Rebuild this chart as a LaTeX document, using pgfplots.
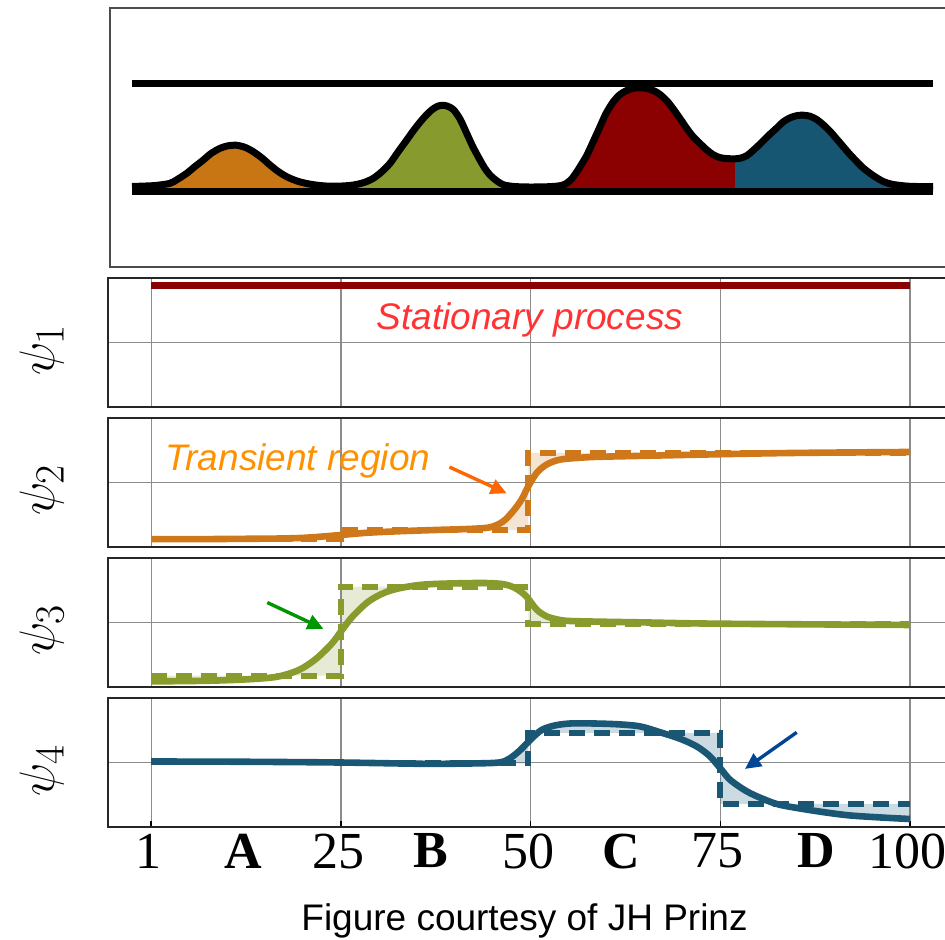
\documentclass[border=0pt]{standalone}
\usepackage{fontspec}
\setmainfont{Liberation Sans}
\newfontfamily\tickfont{Liberation Serif}
\usepackage{pgfplots}
\pgfplotsset{compat=1.18}
\usepgfplotslibrary{fillbetween}
\usetikzlibrary{arrows.meta}

\definecolor{corange}{RGB}{200,117,20}
\definecolor{cgreen}{RGB}{135,154,46}
\definecolor{cred}{RGB}{139,0,0}
\definecolor{cblue}{RGB}{22,86,115}
\definecolor{lorange}{RGB}{207,120,25}
\definecolor{lgreen}{RGB}{136,155,45}
\definecolor{lblue}{RGB}{25,87,117}
\definecolor{statred}{RGB}{255,51,51}
\definecolor{transor}{RGB}{255,145,0}
\definecolor{arrowor}{RGB}{255,102,0}
\definecolor{arrowgr}{RGB}{0,150,0}
\definecolor{arrowbl}{RGB}{0,70,150}

\tikzset{arr/.style={line width=1.7pt, -{Triangle[length=8pt,width=7.5pt]}}}
\pgfplotsset{
  psipanel/.style={
    scale only axis, width=420.95pt, height=64.1pt, anchor=north west,
    xmin=-5.68, xmax=105.27, ymin=-1, ymax=1,
    xtick={0,25,50,75,100}, ytick={0}, xticklabels={}, yticklabels={},
    grid=major, grid style={draw=black!45, line width=0.6pt},
    major tick length=0pt,
    axis line style={draw=black!85, line width=1pt},
    set layers,
    ylabel style={at={(axis description cs:-0.079,0.44)}, anchor=center, font=\fontsize{32}{34}\selectfont},
  },
  solidl/.style={line width=3.3pt, smooth},
  dashl/.style={line width=3pt, dash pattern=on 8pt off 4.5pt},
}

\begin{document}
\begin{tikzpicture}

% ---------- top panel ----------
\begin{axis}[scale only axis, width=420.15pt, height=129.2pt, at={(54.85pt,-4.15pt)}, anchor=north west,
  xmin=109.7, xmax=950, ymin=3.3, ymax=261.7, ticks=none,
  axis line style={draw=black!70, line width=1pt}]
\addplot[fill=corange, draw=none] coordinates {(132,78.3) (132,83.5) (140,83.8) (155,84.5) (170,86.7) (178,91) (186.7,96.7) (195,103.5) (203.3,110) (211,116.5) (220,121.7) (228,124.2) (236,124.8) (245,122.7) (253.3,118.3) (262,112) (270,105) (278,98.7) (286.7,93.3) (297,89) (306.7,86.5) (318,84.7) (330,83.8) (330,78.3)};
\addplot[fill=cgreen, draw=none] coordinates {(330,78.3) (330,83.8) (342,84) (353.3,85) (364,87.5) (373.3,91.7) (382,98.5) (390,106.7) (398,118) (406.7,130) (415,141.5) (423.3,151.7) (431,159.5) (437,163.5) (442,164.7) (447,164) (453.3,160.5) (460,151) (466.7,136.7) (473,123) (480,110) (485,101.5) (490,95) (497,89) (503.3,85.3) (512,83.7) (520,83.2) (531,83) (531,78.3)};
\addplot[fill=cred, draw=none] coordinates {(531,78.3) (531,83) (546,83.2) (556,83.8) (562,84.7) (567,87) (572,91.5) (577,98.5) (582,106.5) (586.7,114.5) (593,128) (600,143.3) (606,156.5) (613.3,168.3) (620,175.5) (626.7,179.5) (633,181.7) (640,182.3) (647,181.5) (654,179.2) (660,175.5) (667,169) (673.3,161) (680,151.5) (686.7,141.7) (693,133.5) (700,126.5) (706.7,120.2) (713.3,115.2) (720,112.4) (727,111.4) (735,111.2) (735,78.3)};
\addplot[fill=cblue, draw=none] coordinates {(735,78.3) (735,111.2) (741,112) (747,114.5) (753,119.5) (760,126) (768,134) (776.7,142) (783,148) (790,152.2) (797,154.4) (803.3,154.8) (810,153.8) (816.7,150.5) (823,145.5) (830,138.7) (836.7,131) (843.3,123.3) (850,115.5) (856.7,108.5) (863,102.2) (870,96.7) (877,92) (883.3,88.5) (890,86.2) (896.7,85) (910,83.7) (933,83.3) (933,78.3)};
\addplot[black, line width=3.5pt, smooth, line join=round] coordinates {(132,83.5) (140,83.8) (155,84.5) (170,86.7) (178,91) (186.7,96.7) (195,103.5) (203.3,110) (211,116.5) (220,121.7) (228,124.2) (236,124.8) (245,122.7) (253.3,118.3) (262,112) (270,105) (278,98.7) (286.7,93.3) (297,89) (306.7,86.5) (318,84.7) (330,83.8) (342,84) (353.3,85) (364,87.5) (373.3,91.7) (382,98.5) (390,106.7) (398,118) (406.7,130) (415,141.5) (423.3,151.7) (431,159.5) (437,163.5) (442,164.7) (447,164) (453.3,160.5) (460,151) (466.7,136.7) (473,123) (480,110) (485,101.5) (490,95) (497,89) (503.3,85.3) (512,83.7) (520,83.2) (531,83) (546,83.2) (556,83.8) (562,84.7) (567,87) (572,91.5) (577,98.5) (582,106.5) (586.7,114.5) (593,128) (600,143.3) (606,156.5) (613.3,168.3) (620,175.5) (626.7,179.5) (633,181.7) (640,182.3) (647,181.5) (654,179.2) (660,175.5) (667,169) (673.3,161) (680,151.5) (686.7,141.7) (693,133.5) (700,126.5) (706.7,120.2) (713.3,115.2) (720,112.4) (727,111.4) (735,111.2) (741,112) (747,114.5) (753,119.5) (760,126) (768,134) (776.7,142) (783,148) (790,152.2) (797,154.4) (803.3,154.8) (810,153.8) (816.7,150.5) (823,145.5) (830,138.7) (836.7,131) (843.3,123.3) (850,115.5) (856.7,108.5) (863,102.2) (870,96.7) (877,92) (883.3,88.5) (890,86.2) (896.7,85) (910,83.7) (933,83.3)};
\addplot[black, line width=3.3pt] coordinates {(132,78.3) (933,78.3)};
\addplot[black, line width=3.3pt] coordinates {(132,186.3) (933,186.3)};
\end{axis}

% ---------- psi 1 ----------
\begin{axis}[psipanel, at={(54.05pt,-139.15pt)}, ylabel={$\psi_1$}]
\addplot[cred, solidl] coordinates {(0,0.89) (100,0.89)};
\addplot[cred, dashl] coordinates {(0,0.89) (100,0.89)};
\node[font=\itshape\fontsize{18.5}{20}\selectfont, text=statred, anchor=base] at (axis cs:49.9,0.206) {Stationary process};
\end{axis}

% ---------- psi 2 ----------
\begin{axis}[psipanel, at={(54.05pt,-209.15pt)}, ylabel={$\psi_2$}]
\addplot[name path=s2, lorange, solidl] coordinates {(0,-0.885) (6,-0.885) (12,-0.88) (17,-0.875) (20,-0.865) (22.5,-0.845) (25,-0.82) (28.5,-0.785) (33,-0.76) (38,-0.74) (42,-0.725) (44.65,-0.70) (46.36,-0.61) (47.68,-0.45) (48.79,-0.27) (49.7,-0.06) (50.81,0.15) (52.12,0.28) (53.84,0.355) (56.46,0.385) (59.09,0.40) (65,0.415) (75,0.44) (85,0.46) (100,0.475)};
\addplot[name path=d2, lorange, dashl] coordinates {(0,-0.885) (25,-0.885) (25,-0.745) (49.7,-0.745) (49.7,0.46) (100,0.46)};
\addplot[lorange, fill opacity=0.2, draw=none] fill between[of=s2 and d2];
\node[font=\itshape\fontsize{18.5}{20}\selectfont, text=transor, anchor=base] at (axis cs:19.35,0.18) {Transient region};
\draw[arrowor, arr] (axis cs:39.3,0.24) -- (axis cs:46.85,-0.17);
\end{axis}

% ---------- psi 3 ----------
\begin{axis}[psipanel, at={(54.05pt,-279.15pt)}, ylabel={$\psi_3$}]
\addplot[name path=s3, lgreen, solidl] coordinates {(0,-0.92) (7.5,-0.91) (13.1,-0.885) (16.7,-0.845) (19.5,-0.74) (21.7,-0.57) (23.8,-0.33) (25.2,-0.11) (26.6,0.10) (28.8,0.34) (31.6,0.50) (35.9,0.59) (43,0.615) (46.2,0.60) (47.9,0.54) (49.4,0.41) (50.8,0.20) (52.2,0.09) (54.3,0.03) (57.2,0.016) (65,0.0) (75,-0.02) (100,-0.04)};
\addplot[name path=d3, lgreen, dashl] coordinates {(0,-0.83) (25,-0.83) (25,0.56) (49.7,0.56) (49.7,-0.02) (100,-0.02)};
\addplot[lgreen, fill opacity=0.2, draw=none] fill between[of=s3 and d3];
\draw[arrowgr, arr] (axis cs:15.3,0.31) -- (axis cs:22.7,-0.10);
\end{axis}

% ---------- psi 4 ----------
\begin{axis}[psipanel, at={(54.05pt,-349.15pt)}, height=64.2pt, ylabel={$\psi_4$},
  xticklabels={1,25,50,75,100},
  xtick pos=lower, major tick length=3pt, xtick style={draw=black, line width=0.8pt}, ytick style={draw=none},
  xticklabel style={font=\tickfont\fontsize{26}{26}\selectfont, xshift=-1.2pt},
  extra x ticks={12.4,37.2,62.2,88},
  extra x tick labels={\textbf{A},\textbf{B},\textbf{C},\textbf{D}},
  extra x tick style={grid=none, major tick length=0pt}]
\addplot[name path=s4, lblue, solidl] coordinates {(0,0.016) (12,0.012) (25,0.0) (35.9,-0.02) (42,-0.015) (45.8,0.0) (47.2,0.06) (48.6,0.19) (50.1,0.37) (51.5,0.51) (53.3,0.58) (55.7,0.61) (60.7,0.60) (64.3,0.565) (67.1,0.47) (69.7,0.37) (71.9,0.25) (73.6,0.10) (75.0,-0.09) (76.3,-0.27) (78.5,-0.45) (80.7,-0.57) (82.9,-0.66) (87.3,-0.75) (91.7,-0.82) (96.0,-0.855) (100,-0.88)};
\addplot[name path=d4, lblue, dashl] coordinates {(0,0.01) (25,0.01) (25,-0.015) (49.7,-0.015) (49.7,0.46) (75,0.46) (75,-0.645) (100,-0.645)};
\addplot[lblue, fill opacity=0.22, draw=none] fill between[of=s4 and d4];
\draw[arrowbl, arr] (axis cs:85.07,0.47) -- (axis cs:78.25,-0.10);
\end{axis}

\node[font=\fontsize{18.5}{20}\selectfont, anchor=base] at (262.25pt,-465pt) {Figure courtesy of JH Prinz};
\pgfresetboundingbox
\path[use as bounding box] (0,0) rectangle (472.5pt,-469.5pt);
\end{tikzpicture}
\end{document}
